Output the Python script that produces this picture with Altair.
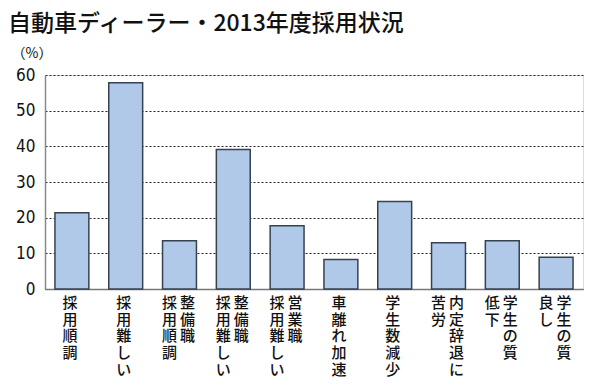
import altair as alt
import pandas as pd

categories = ["採用順調", "採用難しい", "整備職採用順調", "整備職採用難しい", "営業職採用難しい",
              "車離れ加速", "学生数減少", "内定辞退に苦労", "学生の質低下", "学生の質良し"]
values = [21.4, 57.8, 13.5, 39.1, 17.7, 8.3, 24.5, 13.0, 13.5, 8.9]
label_right = ["採用順調", "採用難しい", "整備職", "整備職", "営業職",
               "車離れ加速", "学生数減少", "内定辞退に", "学生の質", "学生の質"]
label_left = ["", "", "採用順調", "採用難しい", "採用難しい", "", "", "苦労", "低下", "良し"]
y_ticks = [0, 10, 20, 30, 40, 50, 60]

JP = "Noto Sans CJK JP"
NUM = "Liberation Sans Narrow, DejaVu Sans Condensed, sans-serif"

bars_df = pd.DataFrame({"cat": categories, "val": values})

rows = []
for c, r, l in zip(categories, label_right, label_left):
    if l:
        rows.append({"cat": c, "txt": "\n".join(r), "pos": "right"})
        rows.append({"cat": c, "txt": "\n".join(l), "pos": "left"})
    else:
        rows.append({"cat": c, "txt": "\n".join(r), "pos": "single"})
lab_df = pd.DataFrame(rows)

xscale = alt.Scale(domain=categories, paddingInner=0.37, paddingOuter=0.185)
yscale = alt.Scale(domain=[0, 60], nice=False)

xaxis = alt.Axis(labels=False, ticks=False, title=None, grid=False,
                 domainColor="#777777", domainWidth=1.5)
yaxis = alt.Axis(values=y_ticks, tickCount=7, ticks=False, labelPadding=10, labelOverlap=False,
                 labelFont=NUM, labelFontSize=17, labelColor="#111111",
                 grid=True, gridColor="#222222", gridDash=[2, 2], gridWidth=1,
                 domainColor="#888888", domainWidth=1.5,
                 title="（%）", titleAngle=0, titleFont=JP, titleFontSize=14,
                 titleFontWeight="normal", titleColor="#111111",
                 titleX=-34, titleY=-22, titleAlign="left", titleBaseline="middle")

bars = alt.Chart(bars_df).mark_bar(
    fill="#b0c9e9", stroke="#36424f", strokeWidth=1.5
).encode(
    x=alt.X("cat:N", scale=xscale, sort=categories, axis=xaxis),
    y=alt.Y("val:Q", scale=yscale, axis=yaxis),
)

def label_layer(pos, dx):
    return alt.Chart(lab_df).transform_filter(
        alt.datum.pos == pos
    ).mark_text(
        font=JP, fontSize=15, lineBreak="\n", lineHeight=16.7,
        baseline="top", align="center", dx=dx, dy=7, color="#111111", fontWeight=500
    ).encode(
        x=alt.X("cat:N", scale=xscale, sort=categories, axis=xaxis),
        y=alt.YDatum(0, type="quantitative", scale=yscale, axis=yaxis),
        text="txt:N",
    )

chart = alt.layer(
    bars,
    label_layer("single", -2),
    label_layer("right", 8),
    label_layer("left", -10),
).properties(
    width=538, height=214,
    title=alt.TitleParams("自動車ディーラー・2013年度採用状況", anchor="start", frame="group",
                          font=JP, fontSize=23, fontWeight=500, color="#111111",
                          dx=-37, offset=10),
    autosize=alt.AutoSizeParams(type="none"),
    padding={"left": 37, "top": 67, "right": 9, "bottom": 92},
).configure_view(stroke=None).configure(background="white")

chart.save("out.html", embed_options={"renderer": "svg", "actions": False})
